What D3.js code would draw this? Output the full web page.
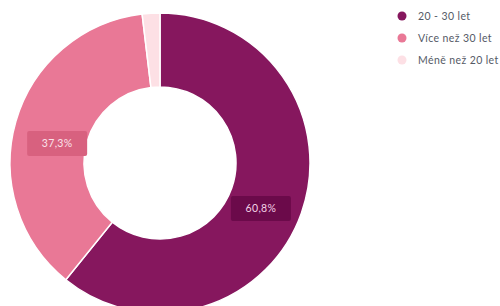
<!DOCTYPE html>
<html>
<head>
<meta charset="utf-8">
<script src="https://cdn.jsdelivr.net/npm/d3@7"></script>
<style>
  html, body { margin: 0; padding: 0; background: #fff; }
  svg { display: block; font-family: "Lato", "Noto Sans", sans-serif; }
</style>
</head>
<body>
<div class="container"></div>
<script>
const WIDTH = 500;
const HEIGHT = 306;

// data
const categories = ["20 - 30 let", "Více než 30 let", "Méně než 20 let"];
const values = [60.8, 37.3, 1.9];
const labels = ["60,8%", "37,3%", ""];
const colors = ["#86175e", "#e97896", "#fde0e5"];
const boxColors = ["#6b0a4a", "#d8617f", null];

const CENTER = { x: 160, y: 163 };
const OUTER = 150;
const INNER = 76;

const svg = d3
  .select(".container")
  .append("svg")
  .attr("viewBox", [0, 0, WIDTH, HEIGHT])
  .attr("width", WIDTH)
  .attr("height", HEIGHT);

const pie = d3.pie().sort(null).value((d) => d);
const arcs = pie(values);

const arc = d3.arc().innerRadius(INNER).outerRadius(OUTER);
const labelArc = d3.arc().innerRadius(107).outerRadius(107);

const g = svg.append("g").attr("transform", `translate(${CENTER.x},${CENTER.y})`);

g.selectAll("path")
  .data(arcs)
  .join("path")
  .attr("d", arc)
  .attr("fill", (d, i) => colors[i])
  .attr("stroke", "#fff")
  .attr("stroke-width", 1.5);

// value labels in small boxes
const lbl = g
  .selectAll("g.lbl")
  .data(arcs.filter((d, i) => labels[i] !== ""))
  .join("g")
  .attr("class", "lbl")
  .attr("transform", (d) => {
    const [x, y] = labelArc.centroid(d);
    return `translate(${x},${y + 10})`;
  });

lbl
  .append("rect")
  .attr("x", -30)
  .attr("y", -12.5)
  .attr("width", 60)
  .attr("height", 25)
  .attr("rx", 2)
  .attr("fill", (d) => boxColors[d.index]);

lbl
  .append("text")
  .attr("text-anchor", "middle")
  .attr("dy", "0.35em")
  .attr("font-size", 10.5)
  .attr("letter-spacing", 0.3)
  .attr("fill", (d) => (d.index === 0 ? "#f3d2e6" : "#fbe3ea"))
  .text((d) => labels[d.index]);

// legend
const legend = svg
  .append("g")
  .selectAll("g")
  .data(categories)
  .join("g")
  .attr("transform", (d, i) => `translate(402,${16 + i * 22})`);

legend
  .append("circle")
  .attr("r", 4.5)
  .attr("fill", (d, i) => colors[i]);

legend
  .append("text")
  .attr("x", 16)
  .attr("dy", "0.35em")
  .attr("font-size", 10.5)
  .attr("letter-spacing", 0.4)
  .attr("fill", "#555a66")
  .text((d) => d);
</script>
</body>
</html>
